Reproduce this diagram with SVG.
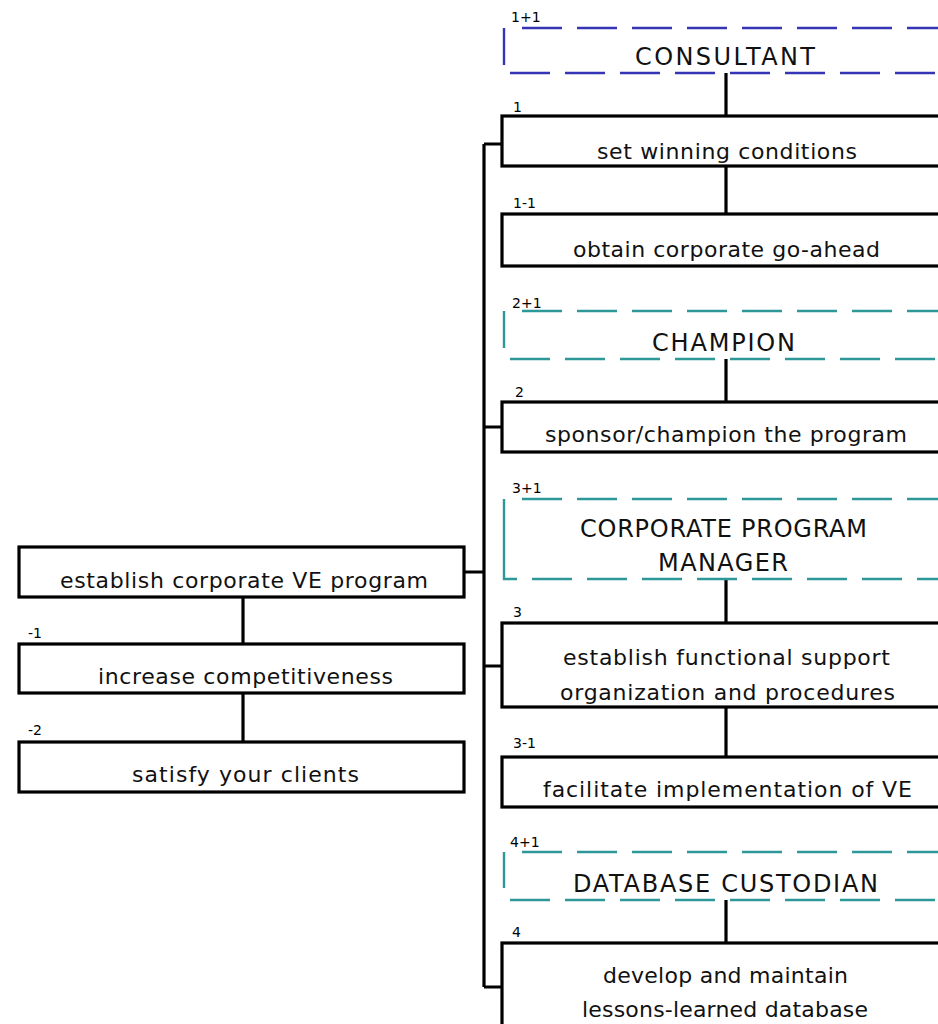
<svg xmlns="http://www.w3.org/2000/svg" width="938" height="1024" viewBox="0 0 938 1024">
<style>
.box{fill:#fff;stroke:#000;stroke-width:3.2}
.ln{stroke:#000;stroke-width:3.2;fill:none}
.db{stroke:#3434b4;stroke-width:2.4;fill:none}
.dt{stroke:#2e9898;stroke-width:2.4;fill:none}
.dash{stroke-dasharray:40 15}
.t{font-family:"DejaVu Sans","Liberation Sans",sans-serif;font-size:22px;fill:#111}
.c{font-family:"DejaVu Sans","Liberation Sans",sans-serif;font-size:24px;fill:#111}
.n{font-family:"DejaVu Sans","Liberation Sans",sans-serif;font-size:14px;fill:#000}
</style>
<rect width="938" height="1024" fill="#fff"/>
<g id="connectors">
<path class="ln" d="M726 73V116M726 166V214M726 359V402M726 579V623M726 707V757M726 900V943"/>
<path class="ln" d="M243 597V644M243 693V742"/>
<path class="ln" d="M484 144V987M484 144H502M484 427H502M484 666H502M484 987H502M464 572H484"/>
</g>
<g id="consultant">
<path class="db" d="M504 28V65"/>
<path class="db dash" d="M522 28H938"/>
<path class="db dash" d="M510 73H938"/>
<text class="n" x="511" y="22">1+1</text>
<text class="c" x="635" y="65" textLength="180" lengthAdjust="spacing">CONSULTANT</text>
</g>
<g id="n1">
<rect class="box" x="502" y="116" width="500" height="50"/>
<text class="n" x="513" y="112">1</text>
<text class="t" x="597" y="159" textLength="260" lengthAdjust="spacing">set winning conditions</text>
</g>
<g id="n1-1">
<rect class="box" x="502" y="214" width="500" height="52"/>
<text class="n" x="513" y="208">1-1</text>
<text class="t" x="573" y="257" textLength="307" lengthAdjust="spacing">obtain corporate go-ahead</text>
</g>
<g id="champion">
<path class="dt" d="M504 311V348"/>
<path class="dt dash" d="M522 311H938"/>
<path class="dt dash" d="M510 359H938"/>
<text class="n" x="512" y="308">2+1</text>
<text class="c" x="652" y="351" textLength="143" lengthAdjust="spacing">CHAMPION</text>
</g>
<g id="n2">
<rect class="box" x="502" y="402" width="500" height="50"/>
<text class="n" x="515" y="397">2</text>
<text class="t" x="545" y="442" textLength="362" lengthAdjust="spacing">sponsor/champion the program</text>
</g>
<g id="cpm">
<path class="dt" d="M504 499V579H517"/>
<path class="dt dash" d="M522 499H938"/>
<path class="dt dash" d="M532 579H938"/>
<text class="n" x="512" y="493">3+1</text>
<text class="c" x="580" y="537" textLength="287" lengthAdjust="spacing">CORPORATE PROGRAM</text>
<text class="c" x="658" y="571" textLength="130" lengthAdjust="spacing">MANAGER</text>
</g>
<g id="n3">
<rect class="box" x="502" y="623" width="500" height="84"/>
<text class="n" x="513" y="617">3</text>
<text class="t" x="563" y="665" textLength="327" lengthAdjust="spacing">establish functional support</text>
<text class="t" x="560" y="700" textLength="335" lengthAdjust="spacing">organization and procedures</text>
</g>
<g id="n3-1">
<rect class="box" x="502" y="757" width="500" height="50"/>
<text class="n" x="513" y="748">3-1</text>
<text class="t" x="543" y="797" textLength="369" lengthAdjust="spacing">facilitate implementation of VE</text>
</g>
<g id="custodian">
<path class="dt" d="M504 852V888"/>
<path class="dt dash" d="M522 852H938"/>
<path class="dt dash" d="M510 900H938"/>
<text class="n" x="510" y="847">4+1</text>
<text class="c" x="573" y="892" textLength="305" lengthAdjust="spacing">DATABASE CUSTODIAN</text>
</g>
<g id="n4">
<rect class="box" x="502" y="943" width="500" height="200"/>
<text class="n" x="512" y="937">4</text>
<text class="t" x="603" y="983" textLength="245" lengthAdjust="spacing">develop and maintain</text>
<text class="t" x="582" y="1017" textLength="286" lengthAdjust="spacing">lessons-learned database</text>
</g>
<g id="root">
<rect class="box" x="19" y="547" width="445" height="50"/>
<text class="t" x="60" y="588" textLength="368" lengthAdjust="spacing">establish corporate VE program</text>
</g>
<g id="m1">
<rect class="box" x="19" y="644" width="445" height="49"/>
<text class="n" x="28" y="638">-1</text>
<text class="t" x="98" y="684" textLength="295" lengthAdjust="spacing">increase competitiveness</text>
</g>
<g id="m2">
<rect class="box" x="19" y="742" width="445" height="50"/>
<text class="n" x="28" y="735">-2</text>
<text class="t" x="132" y="782" textLength="227" lengthAdjust="spacing">satisfy your clients</text>
</g>
</svg>
